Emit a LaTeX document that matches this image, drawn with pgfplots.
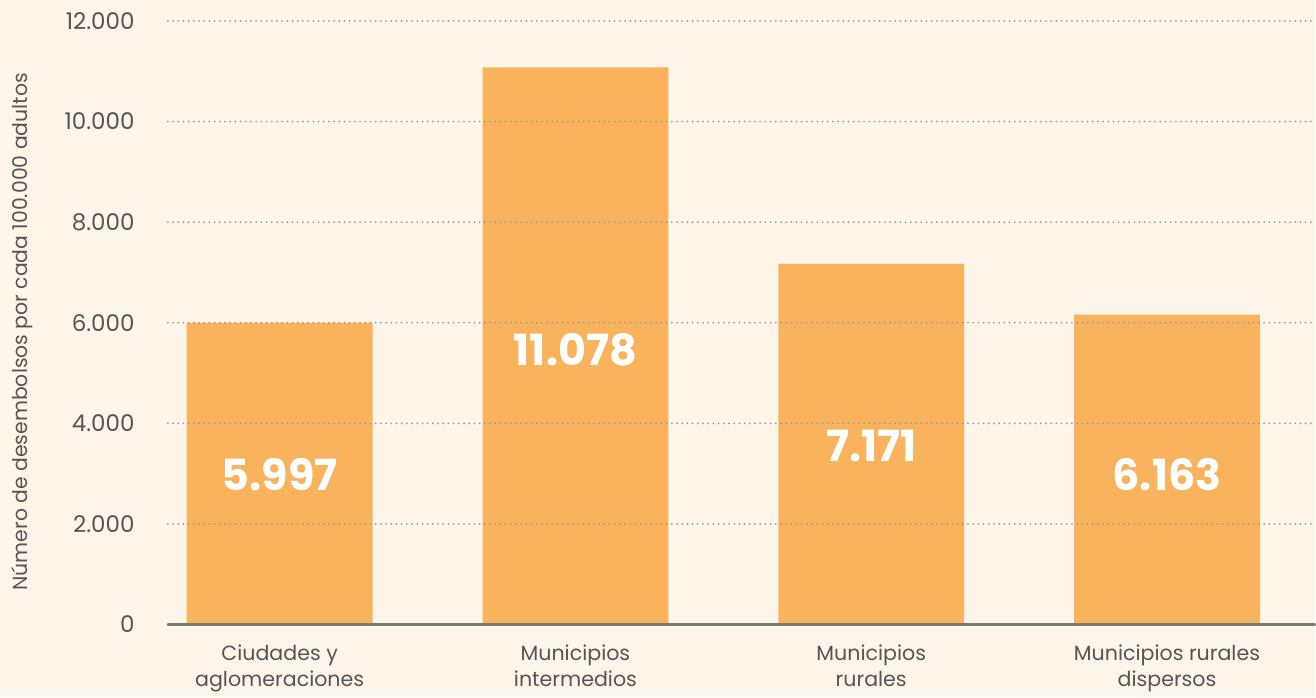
\documentclass[border=0pt]{standalone}
\usepackage{fontspec}
\setmainfont{Poppins}
\usepackage{pgfplots}
\pgfplotsset{compat=1.18}
\definecolor{bg}{HTML}{FEF5EA}
\definecolor{barc}{HTML}{F8B35C}
\definecolor{txt}{HTML}{555555}
\definecolor{gridc}{HTML}{9A9A9A}
\definecolor{axisc}{HTML}{7A7A7A}
\begin{document}
\begin{tikzpicture}
% background, also fixes the page size (1px = 0.5pt)
\fill[bg] (-84pt,-36.5pt) rectangle (574pt,312.5pt);
\begin{axis}[
  scale only axis, width=574pt, height=302pt,
  xmin=-0.378, xmax=3.5, ymin=0, ymax=12000,
  axis line style={draw=none},
  axis on top,
  major tick length=0pt,
  xtick={0,1,2,3},
  xticklabels={Ciudades y\\aglomeraciones, Municipios\\intermedios, Municipios\\rurales, Municipios rurales\\dispersos},
  xticklabel style={align=center, font=\fontsize{10.3}{13}\selectfont, text=txt, anchor=north, inner sep=0pt, yshift=-10pt},
  ytick={2000,4000,...,12000},
  extra y ticks={0},
  extra y tick style={grid style={solid, draw=axisc, line width=1.1pt}},
  ymajorgrids,
  grid style={gridc, line width=1pt, dash pattern=on 0pt off 2.6pt, line cap=round},
  scaled y ticks=false,
  yticklabel style={/pgf/number format/.cd, 1000 sep={.}, assume math mode=true, /tikz/.cd,
    font=\fontsize{11.5}{13}\selectfont, text=txt, anchor=east, inner sep=0pt, xshift=-16.5pt},
  ylabel={Número de desembolsos por cada 100.000 adultos},
  ylabel style={at={(axis description cs:-0.1272,0.485)}, anchor=center, font=\fontsize{10.2}{13}\selectfont, text=txt},
]
\addplot[ybar, bar width=93pt, fill=barc, draw=none]
  coordinates {(0,5997) (1,11078) (2,7171) (3,6163)};
\addplot[draw=none, mark=none, nodes near coords, point meta=explicit symbolic,
  nodes near coords style={anchor=center, text=white, font=\fontsize{21.5}{24}\bfseries\selectfont}]
  coordinates {(0,2980)[5.997] (1,5470)[11.078] (2,3540)[7.171] (3,2980)[6.163]};
\end{axis}
\end{tikzpicture}
\end{document}
